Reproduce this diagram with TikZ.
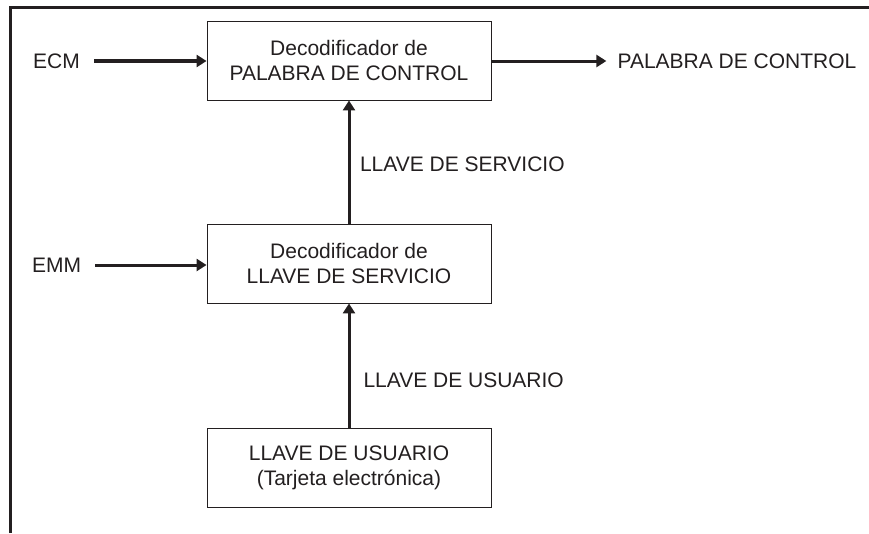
\documentclass[tikz,border=0pt]{standalone}
\usepackage{fontspec}
\setmainfont{Liberation Sans}
\usetikzlibrary{arrows.meta,calc}
\definecolor{tinta}{HTML}{231F20}

\begin{document}
\begin{tikzpicture}[x=1pt,y=-1pt,
	bloque/.style={draw=tinta,line width=0.9pt,minimum width=284pt,minimum height=79pt,inner sep=0pt,align=center,text=tinta,font=\fontsize{21}{25}\selectfont},
	etiqueta/.style={text=tinta,font=\fontsize{21}{25}\selectfont,inner ysep=0pt},
	flecha/.style={draw=tinta,line width=3pt,-{Triangle[length=10pt,width=12pt]}}]
					\useasboundingbox (0,0) rectangle (869,533);
					%MARCO
					\draw[tinta,line width=3pt] (10,533) -- (10,7) -- (869,7);
					%BLOQUES
					\node[bloque] (palabra) at (349,60.5) {Decodificador de\\PALABRA DE CONTROL};
					\node[bloque] (servicio) at (349,263.5) {Decodificador de\\LLAVE DE SERVICIO};
					\node[bloque] (usuario) at (349,467.5) {LLAVE DE USUARIO\\(Tarjeta electr\'onica)};
					%ENTRADAS Y SALIDA
					\node[etiqueta,inner xsep=14pt] (ecm) at (56.5,61) {ECM};
					\node[etiqueta,inner xsep=14pt] (emm) at (56.5,265) {EMM};
					\node[etiqueta,inner xsep=11pt] (salida) at (737,61) {PALABRA DE CONTROL};
					\draw[flecha,line width=4.5pt] (ecm.east) -- (ecm.east -| palabra.west);
					\draw[flecha] (emm.east) -- (emm.east -| servicio.west);
					\draw[flecha] (palabra.east |- salida.west) -- (salida.west);
					%LLAVES
					\draw[flecha] (servicio.north) -- node[etiqueta,pos=0.48,right,inner xsep=0pt,xshift=9.5pt]{LLAVE DE SERVICIO} (palabra.south);
					\draw[flecha] (usuario.north) -- node[etiqueta,pos=0.38,right,inner xsep=0pt,xshift=13pt]{LLAVE DE USUARIO} (servicio.south);
\end{tikzpicture}
\end{document}
